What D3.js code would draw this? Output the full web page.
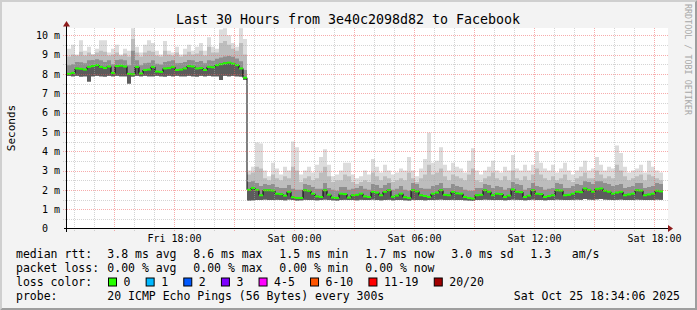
<!DOCTYPE html>
<html>
<head>
<meta charset="utf-8">
<script src="https://cdn.jsdelivr.net/npm/d3@7"></script>
<style>
  body { margin: 0; background: #f3f3f3; }
  svg text { font-family: "DejaVu Sans Mono", monospace; white-space: pre; }
</style>
</head>
<body>
<div id="chart"></div>
<script>
// smokeping values, in ms, one step = 12 minutes
const stepMin = 12;
const startA = new Date(2025, 9, 24, 12, 39);   // Fri 12:39
const startB = new Date(2025, 9, 24, 21, 39);   // Fri 21:39, after the drop
const endTime = new Date(2025, 9, 25, 18, 39);

const medA = [8.00,8.05,8.28,8.26,8.22,8.36,8.40,8.45,8.36,8.30, 8.38,8.05,8.40,8.42,8.38,8.00,7.98,8.36,8.02,8.20,
  8.22,8.36,8.12,8.10,8.28,8.30,8.36,8.20,8.22,8.28, 8.40,8.38,8.28,8.30,8.20,8.36,8.34,8.45,8.50,8.55,
  8.58,8.53,8.45,8.28,7.80];
const loA = [7.90,7.88,7.90,7.86,7.88,7.60,7.88,7.90,7.88,7.86, 7.90,7.88,7.90,7.87,7.88,7.50,7.86,7.90,7.88,7.90,
  7.88,7.87,7.90,7.88,7.86,7.90,7.88,7.90,7.87,7.88, 7.90,7.88,7.86,7.90,7.88,7.90,7.88,7.87,7.68,7.90,
  7.88,7.90,7.88,7.86,7.70];
const p75A = [8.45,8.50,8.62,8.60,8.55,8.70,8.72,8.75,8.70,8.62, 8.70,8.50,8.72,8.74,8.70,8.45,9.20,8.70,8.45,8.55,
  8.58,8.70,8.52,8.48,8.62,8.65,8.70,8.55,8.56,8.62, 8.72,8.70,8.62,8.66,8.55,8.70,8.68,8.78,8.85,8.90,
  8.92,8.88,8.80,8.65,8.20];
const p90A = [8.90,9.00,8.95,9.15,8.95,9.10,9.00,9.10,9.20,9.15, 8.95,9.00,9.10,8.95,9.05,8.90,9.80,9.10,8.90,9.10,
  9.20,9.15,8.95,8.90,9.20,9.00,8.95,9.10,8.90,9.00, 9.15,9.00,9.05,9.20,8.95,9.40,9.10,9.10,9.60,9.70,
  9.50,9.30,9.20,9.60,9.00];
const hiA = [9.30,9.50,9.00,9.74,9.20,9.40,9.00,9.30,9.74,9.74, 9.10,9.30,9.50,9.00,9.30,9.20,10.36,9.40,9.10,9.50,
  9.74,9.60,9.20,9.00,9.70,9.20,9.10,9.40,9.00,9.30, 9.50,9.20,9.40,9.60,9.20,9.90,9.40,9.30,10.30,10.36,
  10.00,9.60,9.40,10.36,9.80];

const medB = [2.00,2.10,2.00,1.72,1.98,1.98,1.96,1.80,1.78,1.70, 1.90,1.62,1.58,1.58,1.98,1.95,1.80,1.66,1.63,1.98,
  1.75,1.60,1.58,1.80,1.78,1.60,1.72,1.74,1.80,1.66, 1.63,1.90,1.86,1.72,1.90,1.98,1.64,1.70,1.80,1.62,
  1.58,1.98,1.92,1.72,1.68,1.63,1.80,1.86,1.98,1.74, 1.72,1.90,1.82,1.80,1.63,1.58,1.55,1.72,1.74,1.98,
  1.90,1.72,1.80,1.78,1.63,1.70,2.02,1.90,1.88,1.63, 1.70,1.98,1.80,1.78,1.63,1.68,1.72,1.98,1.96,1.72,
  1.74,1.80,1.90,1.88,2.07,2.00,1.90,2.05,2.07,1.95, 1.90,1.80,1.86,1.90,1.72,1.76,1.80,1.98,1.96,1.72,
  1.76,1.80,1.95,1.92];
const loB = [1.45,1.46,1.48,1.47,1.50,1.48,1.47,1.49,1.48,1.46, 1.50,1.47,1.45,1.46,1.49,1.48,1.47,1.46,1.48,1.50,
  1.47,1.46,1.45,1.48,1.49,1.47,1.48,1.46,1.49,1.47, 1.48,1.50,1.47,1.46,1.48,1.49,1.46,1.47,1.48,1.46,
  1.45,1.49,1.48,1.47,1.46,1.47,1.48,1.49,1.50,1.47, 1.48,1.49,1.47,1.48,1.46,1.45,1.44,1.47,1.48,1.50,
  1.49,1.47,1.48,1.47,1.46,1.47,1.50,1.49,1.48,1.46, 1.47,1.50,1.48,1.47,1.46,1.47,1.48,1.50,1.49,1.47,
  1.48,1.49,1.50,1.49,1.52,1.50,1.49,1.51,1.52,1.50, 1.49,1.48,1.49,1.50,1.47,1.48,1.48,1.50,1.49,1.47,
  1.48,1.48,1.50,1.49];
const p75B = [2.40,2.45,2.35,2.20,2.30,2.25,2.30,2.15,2.10,2.10, 2.25,2.05,2.00,2.00,2.30,2.25,2.15,2.05,2.05,2.35,
  2.10,2.00,1.95,2.15,2.15,2.00,2.05,2.10,2.20,2.05, 2.00,2.30,2.25,2.10,2.25,2.35,2.00,2.05,2.20,2.00,
  1.95,2.35,2.30,2.10,2.05,2.05,2.20,2.25,2.35,2.10, 2.10,2.30,2.20,2.15,2.00,1.95,1.95,2.10,2.10,2.30,
  2.25,2.10,2.20,2.15,2.00,2.10,2.40,2.30,2.25,2.00, 2.10,2.35,2.20,2.15,2.00,2.05,2.10,2.35,2.30,2.10,
  2.10,2.20,2.30,2.25,2.45,2.40,2.30,2.45,2.45,2.35, 2.30,2.20,2.25,2.30,2.10,2.15,2.20,2.35,2.35,2.10,
  2.15,2.20,2.35,2.30];
const p90B = [2.80,2.90,3.20,3.10,2.60,2.50,2.80,2.60,2.50,2.70, 2.60,3.20,3.00,2.40,2.60,2.70,2.50,2.60,2.90,3.20,
  2.70,2.40,2.50,2.50,2.80,2.70,2.40,2.30,2.40,2.50, 2.40,2.90,2.70,2.50,2.70,2.60,2.40,2.50,2.60,2.50,
  2.90,2.60,2.40,2.60,2.80,3.30,2.80,2.90,3.10,2.70, 2.50,2.80,2.70,2.60,2.50,2.80,3.10,2.50,2.40,2.60,
  2.70,2.90,2.60,2.50,2.70,2.50,3.00,2.60,2.50,2.70, 2.50,2.80,3.10,2.80,2.60,2.50,2.70,2.50,2.60,2.80,
  2.50,2.40,2.60,2.70,2.90,2.60,2.60,3.00,2.80,2.60, 2.70,2.60,3.30,3.00,2.70,2.50,2.60,2.70,2.80,2.50,
  2.80,2.70,2.60,2.50];
const hiB = [3.00,3.20,4.45,4.40,3.00,2.70,3.40,3.10,2.80,3.20, 3.00,4.50,4.20,2.80,3.00,3.20,2.90,3.30,3.70,4.10,
  3.30,2.70,2.80,3.00,3.40,3.40,2.80,2.60,2.70,3.00, 2.80,3.60,3.20,2.90,3.30,3.00,2.80,2.90,3.10,3.00,
  3.70,3.00,2.70,3.10,3.60,4.95,3.40,3.50,4.20,3.30, 3.00,3.40,3.20,3.10,2.90,3.50,4.15,3.00,2.80,3.00,
  3.20,3.50,3.00,2.90,3.20,3.00,3.80,3.10,3.00,3.30, 3.00,3.30,4.00,3.40,3.10,3.00,3.30,2.90,3.10,3.40,
  3.00,2.80,3.00,3.20,3.50,3.00,3.10,3.70,3.30,3.00, 3.20,3.10,4.30,3.90,3.20,2.90,3.00,3.10,3.30,2.90,
  3.50,3.20,3.00,2.90];

const yTicks = [0, 1, 2, 3, 4, 5, 6, 7, 8, 9, 10];
const yTickLabels = ["0  ", "1 m", "2 m", "3 m", "4 m", "5 m", "6 m", "7 m", "8 m", "9 m", "10 m"];
const xTickTimes = [new Date(2025, 9, 24, 18), new Date(2025, 9, 25, 0), new Date(2025, 9, 25, 6),
  new Date(2025, 9, 25, 12), new Date(2025, 9, 25, 18)];
const xTickLabels = ["Fri 18:00", "Sat 00:00", "Sat 06:00", "Sat 12:00", "Sat 18:00"];

const rttStats = ["3.8 ms avg", "8.6 ms max", "1.5 ms min", "1.7 ms now", "3.0 ms sd"];
const amsText = "1.3   am/s";
const lossStats = ["0.00 % avg", "0.00 % max", "0.00 % min", "0.00 % now"];
const lossLabels = ["0", "1", "2", "3", "4-5", "6-10", "11-19", "20/20"];
const lossColors = ["#26ff00", "#00b8ff", "#0059ff", "#7e00ff", "#ff00ff", "#ff5500", "#ff0000", "#a10000"];

const width = 697, height = 310;
const L = 67, R = 668, T = 28, B = 228.5;

const svg = d3.select("#chart").append("svg")
  .attr("width", width)
  .attr("height", height);

// background + 3d frame
svg.append("rect").attr("width", width).attr("height", height).attr("fill", "#f3f3f3");
svg.append("polygon").attr("points", "0,0 697,0 695,2 2,2 2,308 0,310").attr("fill", "#cfcfcf");
svg.append("polygon").attr("points", "697,0 697,310 0,310 2,308 695,308 695,2").attr("fill", "#9e9e9e");

svg.append("rect").attr("x", L).attr("y", T).attr("width", R - L).attr("height", B - T).attr("fill", "#fff");

const x = d3.scaleTime().domain([startA, endTime]).range([L, L + 600]);
const y = d3.scaleLinear().domain([0, 200 / 19.33]).range([B, B - 200]);

svg.append("clipPath").attr("id", "clip")
  .append("rect").attr("x", L).attr("y", T).attr("width", R - L).attr("height", B - T);

function segment(start, med, lo, p75, p90, hi) {
  return med.map((m, i) => ({
    t: d3.timeMinute.offset(start, i * stepMin), med: m, lo: lo[i], p75: p75[i], p90: p90[i], hi: hi[i]
  }));
}
const segA = segment(startA, medA, loA, p75A, p90A, hiA);
const segB = segment(startB, medB, loB, p75B, p90B, hiB);

// close the last step of a segment
const closed = s => s.concat([{ ...s[s.length - 1], t: d3.timeMinute.offset(s[s.length - 1].t, stepMin) }]);

const plot = svg.append("g").attr("clip-path", "url(#clip)");

// smoke bands, lightest outside
const bands = [["lo", "hi", "#dcdcdc"], ["lo", "p90", "#bdbdbd"], ["lo", "p75", "#8f8f8f"], ["lo", "med", "#5c5c5c"]];
[segA, segB].forEach(seg => {
  const rows = closed(seg);
  bands.forEach(([a, b, c]) => {
    plot.append("path")
      .datum(rows)
      .attr("fill", c)
      .attr("d", d3.area().curve(d3.curveStepAfter)
        .x(d => x(d.t)).y0(d => y(d[a])).y1(d => y(d[b])));
  });
});

// median line
const allRows = segA.concat(closed(segB));
plot.append("path")
  .datum(allRows)
  .attr("fill", "none")
  .attr("stroke", "#000")
  .attr("stroke-width", 1)
  .attr("d", d3.line().curve(d3.curveStepAfter).x(d => x(d.t)).y(d => y(d.med)));

// loss coloured median marks
plot.selectAll("rect.med")
  .data(allRows.slice(0, -1))
  .join("rect")
  .attr("class", "med")
  .attr("x", d => x(d.t))
  .attr("width", 4)
  .attr("y", d => y(d.med) - 1)
  .attr("height", 2)
  .attr("fill", lossColors[0]);

// grid on top, like rrdtool
const grid = svg.append("g").attr("shape-rendering", "crispEdges");
const majorCol = "rgba(240,90,90,0.5)", minorCol = "rgba(170,170,170,0.5)";
const hours = d3.timeHour.range(d3.timeHour.ceil(startA), endTime);
grid.selectAll("line.v")
  .data(hours)
  .join("line")
  .attr("x1", d => Math.round(x(d)) + 0.5).attr("x2", d => Math.round(x(d)) + 0.5)
  .attr("y1", T).attr("y2", B + 3)
  .attr("stroke", d => d.getHours() % 3 === 0 ? majorCol : minorCol)
  .attr("stroke-dasharray", "1,1");

const halfSteps = d3.range(1, 21).map(k => k / 2);
grid.selectAll("line.h")
  .data(halfSteps)
  .join("line")
  .attr("x1", L - 4).attr("x2", R)
  .attr("y1", d => Math.round(y(d)) + 0.5).attr("y2", d => Math.round(y(d)) + 0.5)
  .attr("stroke", d => Number.isInteger(d) ? majorCol : minorCol)
  .attr("stroke-dasharray", "1,1");

// axes lines and arrows
svg.append("line").attr("x1", L - 3).attr("x2", R + 1).attr("y1", B).attr("y2", B)
  .attr("stroke", "#000").attr("shape-rendering", "crispEdges");
svg.append("line").attr("x1", L - 0.5).attr("x2", L - 0.5).attr("y1", B + 3).attr("y2", T - 2)
  .attr("stroke", "#000").attr("shape-rendering", "crispEdges");
svg.append("polygon").attr("points", `${R},${B - 3.5} ${R + 5},${B} ${R},${B + 3.5}`).attr("fill", "#8e1b1b");
svg.append("polygon").attr("points", `${L - 4},${T - 1.5} ${L - 0.5},${T - 7} ${L + 3},${T - 1.5}`).attr("fill", "#8e1b1b");

// tick labels
const yAxis = svg.append("g")
  .attr("transform", `translate(${L - 0.5},0)`)
  .call(d3.axisLeft(y).tickValues(yTicks).tickSize(0).tickPadding(6.5)
    .tickFormat((d, i) => yTickLabels[i]));
yAxis.select(".domain").remove();
yAxis.selectAll("text")
  .attr("font-family", "DejaVu Sans Mono").attr("font-size", 10).attr("fill", "#000")
  .attr("xml:space", "preserve").attr("dy", "0.34em");

const xAxis = svg.append("g")
  .attr("transform", `translate(0,${B})`)
  .call(d3.axisBottom(x).tickValues(xTickTimes).tickSize(0).tickPadding(6)
    .tickFormat((d, i) => xTickLabels[i]));
xAxis.select(".domain").remove();
xAxis.selectAll("text")
  .attr("font-family", "DejaVu Sans Mono").attr("font-size", 10).attr("fill", "#000");

// title, axis title, watermark
svg.append("text").attr("x", 348).attr("y", 24).attr("text-anchor", "middle")
  .attr("font-size", 13.3).attr("fill", "#000")
  .text("Last 30 Hours from 3e40c2098d82 to Facebook");
svg.append("text").attr("transform", "translate(15,128) rotate(-90)").attr("text-anchor", "middle")
  .attr("font-size", 11).attr("fill", "#000").text("Seconds");
svg.append("text").attr("transform", "translate(684.5,4) rotate(90)")
  .attr("font-size", 8.4).attr("fill", "#a8a8a8").text("RRDTOOL / TOBI OETIKER");

// legend
const fs = 11.5, col0 = 16, col1 = 107.3, colW = 86;
const rows = [258, 272, 286, 300];
const lg = svg.append("g").attr("font-size", fs).attr("fill", "#000");
const put = (txt, xx, yy, anchor) => lg.append("text").attr("x", xx).attr("y", yy)
  .attr("text-anchor", anchor || "start").attr("xml:space", "preserve").text(txt);

put("median rtt:", col0, rows[0]);
rttStats.forEach((s, i) => put(s, col1 + i * colW, rows[0]));
put(amsText, 530.3, rows[0]);

put("packet loss:", col0, rows[1]);
lossStats.forEach((s, i) => put(s, col1 + i * colW, rows[1]));

put("loss color:", col0, rows[2]);
let bx = 108.5;
lossLabels.forEach((lab, i) => {
  lg.append("rect").attr("x", bx).attr("y", rows[2] - 8).attr("width", 8).attr("height", 8)
    .attr("fill", lossColors[i]).attr("stroke", "#000").attr("stroke-width", 1);
  const t = put(lab, bx + 15, rows[2]);
  bx += 15 + t.node().getComputedTextLength() + 15.7;
});

put("probe:", col0, rows[3]);
put("20 ICMP Echo Pings (56 Bytes) every 300s", col1, rows[3]);
put("Sat Oct 25 18:34:06 2025", 680, rows[3], "end");
</script>
</body>
</html>
